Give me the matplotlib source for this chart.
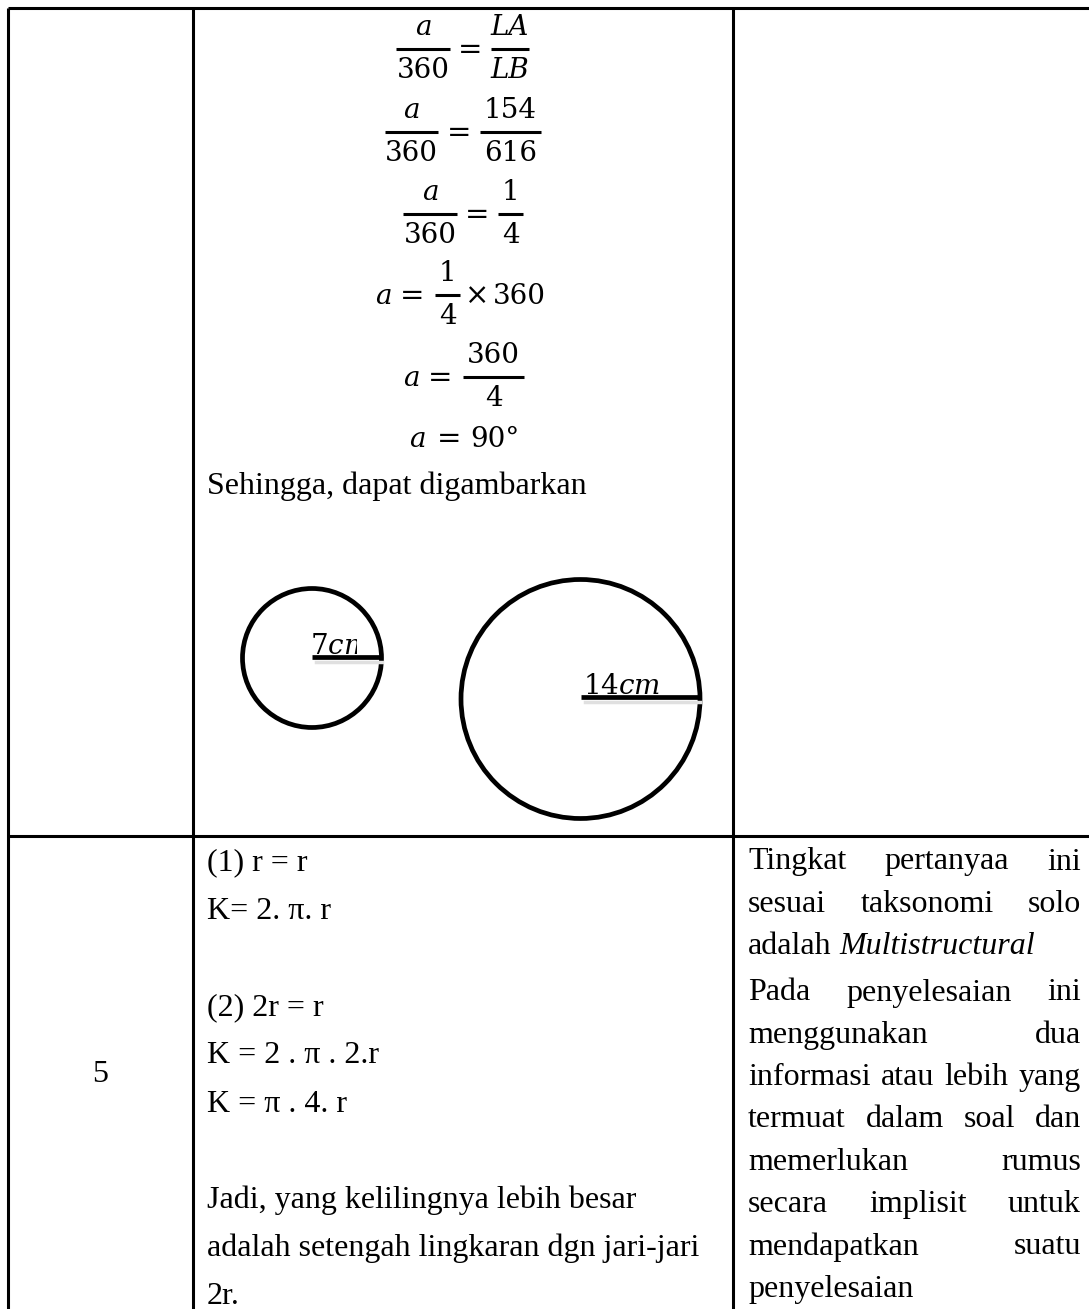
import matplotlib.pyplot as plt
from matplotlib.patches import Circle, Rectangle

plt.rcParams['mathtext.fontset'] = 'dejavuserif'

# --- content ---
left_num = ['a', 'a', 'a']
left_den = ['360', '360', '360']
right_num = ['LA', '154', '1']
right_den = ['LB', '616', '4']

caption = 'Sehingga, dapat digambarkan'
radius_labels = ['$7cm$', '$14cm$']

row_number = '5'
solution_lines = ['(1) r = r', 'K= 2. π. r', '',
                  '(2) 2r = r', 'K = 2 . π . 2.r', 'K = π . 4. r', '',
                  'Jadi, yang kelilingnya lebih besar',
                  'adalah setengah lingkaran dgn jari-jari',
                  '2r.']
comment_paras = [['Tingkat pertanyaa ini', 'sesuai taksonomi solo', 'adalah Multistructural'],
                 ['Pada penyelesaian ini', 'menggunakan dua', 'informasi atau lebih yang',
                  'termuat dalam soal dan', 'memerlukan rumus', 'secara implisit untuk',
                  'mendapatkan suatu', 'penyelesaian']]
italic_words = {'Multistructural'}

W, H = 1089, 1309
fig = plt.figure(figsize=(W / 100, H / 100), dpi=100)
ax = fig.add_axes([0, 0, 1, 1])
ax.set_xlim(0, W)
ax.set_ylim(H, 0)
ax.axis('off')

TXT = dict(family='Liberation Serif', fontsize=23, color='black')
MATH = dict(family='DejaVu Serif', color='black')

# table grid
for x in [8, 193, 733]:
    ax.plot([x, x], [8, H], color='black', lw=2.2, solid_capstyle='butt')
for y in [8, 836]:
    ax.plot([8, W], [y, y], color='black', lw=2.2, solid_capstyle='butt')


def piece(x, y, s, italic=False, ha='center', size=20):
    ax.text(x, y, s, ha=ha, va='baseline', fontsize=size,
            style='italic' if italic else 'normal', **MATH)


def eq_sign(x, ybar):
    piece(x, ybar + 9, '=', size=21)


def frac(x0, x1, ybar, num, den):
    ax.plot([x0, x1], [ybar, ybar], color='black', lw=2.2, solid_capstyle='butt')
    xc = (x0 + x1) / 2
    piece(xc, ybar - 14, num, italic=num.isalpha())
    piece(xc, ybar + 29, den, italic=den.isalpha())


# first three equations: a/360 = x/y
layout = [(396, 450, 491, 529, 49, 470),
          (385, 438, 480, 541, 132, 459),
          (403, 457, 498, 523, 214, 477)]
for i, (a0, a1, b0, b1, yb, xe) in enumerate(layout):
    frac(a0, a1, yb, left_num[i], left_den[i])
    eq_sign(xe, yb)
    frac(b0, b1, yb, right_num[i], right_den[i])

# a = 1/4 x 360
piece(383, 304, 'a', italic=True)
eq_sign(412, 295)
frac(435, 460, 295, right_num[2], right_den[2])
piece(477, 304, '×', size=21)
piece(519, 304, left_den[0])

# a = 360/4
piece(411, 386, 'a', italic=True)
eq_sign(440, 377)
frac(463, 524, 377, left_den[0], right_den[2])

# a = 90
piece(417, 447, 'a', italic=True)
eq_sign(449, 438)
piece(470, 447, '90°', ha='left')

ax.text(207, 486, caption, va='center', **TXT)

# circles
for (cx, cy, r, y_line, x_lab, clip_x), lab in zip([(312, 658, 69.5, 657, 310, 357),
                                                   (580.5, 699, 119.5, 697, 583, W)],
                                                  radius_labels):
    ax.add_patch(Circle((cx, cy), r, fill=False, ec='black', lw=3.4))
    ax.plot([cx + 4, cx + r], [y_line + 5, y_line + 5], color='0.88', lw=2.5, zorder=1)
    ax.plot([cx, cx + r], [y_line, y_line], color='black', lw=3.4, solid_capstyle='butt', zorder=3)
    t = ax.text(x_lab, y_line - 3, lab, ha='left', va='baseline', fontsize=20, zorder=2,
                clip_on=True)
    t.set_clip_path(Rectangle((0, 0), clip_x, H, transform=ax.transData))

# bottom row
ax.text(100, 1075, row_number, ha='center', va='center', **TXT)
for i, line in enumerate(solution_lines):
    if line:
        ax.text(207, 863 + i * 48.2, line, va='center', **TXT)

renderer = fig.canvas.get_renderer()


def place_line(words, y, x0, x1, justify):
    objs = []
    for w in words:
        objs.append(ax.text(0, y, w, va='center',
                            style='italic' if w in italic_words else 'normal', **TXT))
    widths = [t.get_window_extent(renderer).width for t in objs]
    gap = 8
    if justify and len(words) > 1:
        gap = (x1 - x0 - sum(widths)) / (len(words) - 1)
    x = x0
    for t, w in zip(objs, widths):
        t.set_x(x)
        x += w + gap


starts = [862, 993]
for p, para in enumerate(comment_paras):
    for j, line in enumerate(para):
        place_line(line.split(), starts[p] + j * 42.3, 748, 1081, j < len(para) - 1)

fig.savefig('out.png', dpi=100)
